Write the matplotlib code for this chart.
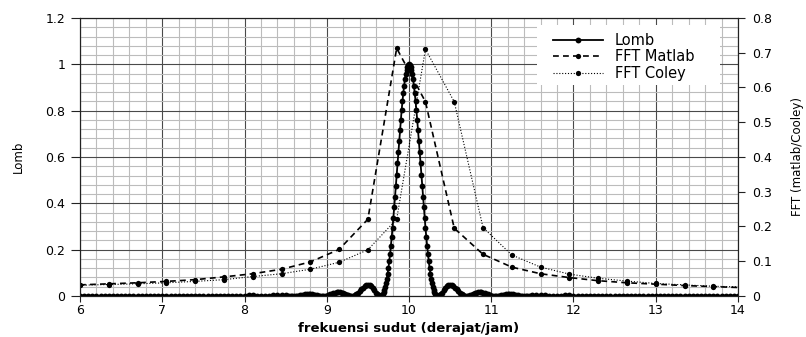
import numpy as np
import matplotlib
matplotlib.use("Agg")
import matplotlib.pyplot as plt
from matplotlib.patches import Rectangle

# ---------------- data ----------------
# Lomb periodogram: symmetric profile around the peak frequency
lomb_center = 10.0
core_offset = np.round(np.arange(0.0, 0.405, 0.01), 3)     # 41 samples
core_power = [1.000, 0.997, 0.989, 0.976, 0.958, 0.935, 0.907, 0.875, 0.840, 0.801,
              0.759, 0.715, 0.668, 0.621, 0.573, 0.524, 0.476, 0.429, 0.382, 0.338,
              0.295, 0.255, 0.217, 0.182, 0.150, 0.121, 0.096, 0.074, 0.055, 0.039,
              0.026, 0.016, 0.009, 0.004, 0.001, 0.000, 0.001, 0.003, 0.006, 0.010,
              0.015]
side_offset = np.round(np.arange(0.42, 1.505, 0.02), 3)    # 55 samples
side_power = [0.024, 0.033, 0.041, 0.046, 0.047, 0.046, 0.042, 0.036, 0.029, 0.021,
              0.014, 0.008, 0.004, 0.001, 0.000, 0.001, 0.003, 0.006, 0.009, 0.012,
              0.014, 0.016, 0.016, 0.016, 0.015, 0.012, 0.010, 0.007, 0.004, 0.002,
              0.001, 0.000, 0.000, 0.001, 0.002, 0.003, 0.005, 0.006, 0.008, 0.008,
              0.008, 0.008, 0.007, 0.006, 0.004, 0.003, 0.002, 0.001, 0.000, 0.000,
              0.000, 0.001, 0.002, 0.002, 0.003]
tail_offset = np.round(np.arange(1.55, 4.005, 0.05), 3)    # 50 samples
tail_power = [0.005, 0.005, 0.003, 0.001, 0.000, 0.001, 0.002, 0.003, 0.003, 0.002,
              0.001, 0.000, 0.001, 0.002, 0.002, 0.002, 0.001, 0.000, 0.000, 0.000,
              0.001, 0.002, 0.002, 0.001, 0.000, 0.000, 0.000, 0.001, 0.001, 0.001,
              0.001, 0.000, 0.000, 0.000, 0.001, 0.001, 0.001, 0.001, 0.000, 0.000,
              0.000, 0.001, 0.001, 0.001, 0.000, 0.000, 0.000, 0.000, 0.001, 0.001]

# FFT spectra (right axis)
fft_freq = [6.00, 6.35, 6.70, 7.05, 7.40, 7.75, 8.10, 8.45, 8.80, 9.15, 9.50, 9.85,
            10.20, 10.55, 10.90, 11.25, 11.60, 11.95, 12.30, 12.65, 13.00, 13.35, 13.70, 14.05]
fft_matlab = [0.032, 0.035, 0.038, 0.042, 0.047, 0.055, 0.064, 0.077, 0.098, 0.134, 0.221, 0.713,
              0.559, 0.195, 0.120, 0.083, 0.064, 0.053, 0.044, 0.038, 0.034, 0.030, 0.027, 0.024]
fft_cooley = [0.031, 0.033, 0.035, 0.038, 0.042, 0.047, 0.056, 0.064, 0.077, 0.097, 0.133, 0.221,
              0.710, 0.559, 0.197, 0.118, 0.083, 0.063, 0.051, 0.043, 0.036, 0.032, 0.028, 0.026]

x_ticks = [6, 7, 8, 9, 10, 11, 12, 13, 14]
left_ticks = [0, 0.2, 0.4, 0.6, 0.8, 1.0, 1.2]
left_ticklabels = ["0", "0.2", "0.4", "0.6", "0.8", "1", "1.2"]
right_ticks = [0, 0.1, 0.2, 0.3, 0.4, 0.5, 0.6, 0.7, 0.8]
right_ticklabels = ["0", "0.1", "0.2", "0.3", "0.4", "0.5", "0.6", "0.7", "0.8"]

# ---------------- build Lomb series ----------------
offset = np.concatenate([core_offset, side_offset, tail_offset])
power = np.concatenate([core_power, side_power, tail_power])
lomb_x = np.concatenate([lomb_center - offset[::-1][:-1], lomb_center + offset])
lomb_y = np.concatenate([power[::-1][:-1], power])

# ---------------- figure ----------------
plt.rcParams["font.family"] = ["DejaVu Sans"]
fig = plt.figure(figsize=(8.06, 3.37), dpi=100)
ax = fig.add_axes([0.0993, 0.1217, 0.8163, 0.8249])
ax2 = ax.twinx()

ax.set_xlim(6, 14)
ax.set_ylim(0, 1.2)
ax2.set_ylim(0, 0.8)

ax.set_xticks(x_ticks)
ax.set_xticks(np.arange(6, 14.01, 0.2), minor=True)
ax.set_yticks(left_ticks)
ax.set_yticklabels(left_ticklabels)
ax.set_yticks(np.arange(0, 1.201, 0.04), minor=True)
ax2.set_yticks(right_ticks)
ax2.set_yticklabels(right_ticklabels)

ax.grid(which="minor", color="#bcbcbc", linewidth=0.8)
ax.grid(which="major", color="#4a4a4a", linewidth=0.8)
ax.set_axisbelow(True)

ax.tick_params(which="minor", length=0)
ax.tick_params(axis="x", which="major", direction="out", length=4, pad=1.5,
               labelsize=9, color="#222222")
ax.tick_params(axis="y", which="major", direction="out", length=6.5, pad=4,
               labelsize=9, color="#222222")
ax2.tick_params(axis="y", which="major", direction="out", length=5, pad=5,
                labelsize=9, color="#222222")
ax2.tick_params(axis="y", which="minor", length=0)

for a in (ax, ax2):
    for s in a.spines.values():
        s.set_color("#222222")
        s.set_linewidth(0.8)

l1, = ax.plot(lomb_x, lomb_y, color="black", linewidth=1.3, marker="o",
              markersize=4.2, markeredgewidth=0, label="Lomb", zorder=3)
l2, = ax2.plot(fft_freq, fft_matlab, color="black", linewidth=1.2,
               linestyle=(0, (3.5, 2.5)), marker="o", markersize=3.8,
               markeredgewidth=0, label="FFT Matlab")
l3, = ax2.plot(fft_freq, fft_cooley, color="black", linewidth=0.8,
               linestyle=(0, (1, 1.6)), marker="o", markersize=3.8,
               markeredgewidth=0, label="FFT Coley")

ax.set_xlabel("frekuensi sudut (derajat/jam)", fontsize=9.5, fontweight="bold")
ax.xaxis.set_label_coords(0.5, -0.092)
ax.set_ylabel("Lomb", fontsize=8.5, va="center")
ax.yaxis.set_label_coords(-0.094, 0.5)
ax2.set_ylabel("FFT (matlab/Cooley)", fontsize=8.5, va="center", rotation=90)
ax2.yaxis.set_label_coords(1.091, 0.5)

# white legend background (layout element)
ax2.add_patch(Rectangle((0.6945, 0.759), 0.278, 0.216, transform=ax2.transAxes,
                        facecolor="white", edgecolor="none", zorder=9))
leg = ax2.legend(handles=[l1, l2, l3], loc="upper left",
                 bbox_to_anchor=(0.7188, 0.946), frameon=False, fontsize=10.5,
                 handlelength=3.4, handletextpad=0.85, labelspacing=0.1,
                 borderpad=0, borderaxespad=0)
leg.set_zorder(10)

fig.savefig("out.png", dpi=100)
